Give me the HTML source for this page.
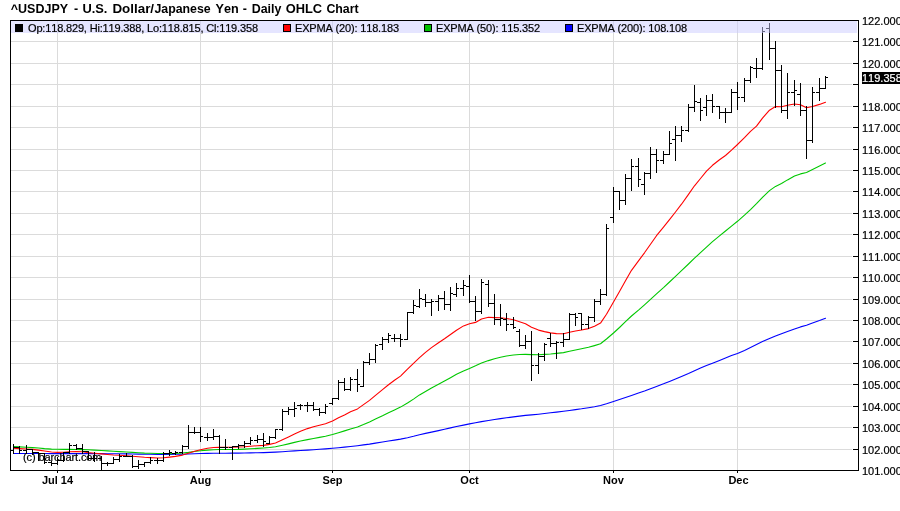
<!DOCTYPE html>
<html lang="en"><head><meta charset="utf-8"><title>^USDJPY - U.S. Dollar/Japanese Yen - Daily OHLC Chart</title>
<style>
html,body{margin:0;padding:0;background:#fff;}
body{width:900px;height:511px;overflow:hidden;}
svg{display:block;}
text{font-family:"Liberation Sans",sans-serif;fill:#000;stroke:#000;stroke-width:0.2px;font-kerning:none;}
.t{font-size:12.5px;font-weight:bold;stroke:none;}
.l{font-size:11px;}
.x{font-size:11px;font-weight:bold;text-anchor:middle;stroke:none;}
.g{fill:#dbdbdb;shape-rendering:crispEdges;}
.k{fill:#000;shape-rendering:crispEdges;}
.e{fill:none;stroke-width:1.1;stroke-linejoin:round;stroke-linecap:round;}
</style></head><body>
<svg width="900" height="511" viewBox="0 0 900 511">
<rect x="0" y="0" width="900" height="511" fill="#fff"/>
<text class="t" y="13"><tspan x="10.8" textLength="57.3" lengthAdjust="spacingAndGlyphs">^USDJPY</tspan> <tspan x="74.0">-</tspan> <tspan x="82.4" textLength="25.0" lengthAdjust="spacingAndGlyphs">U.S.</tspan> <tspan x="112.4" textLength="41.7" lengthAdjust="spacingAndGlyphs">Dollar/</tspan><tspan x="154.4" textLength="56.3" lengthAdjust="spacingAndGlyphs">Japanese</tspan> <tspan x="215.5" textLength="23.2" lengthAdjust="spacingAndGlyphs">Yen</tspan> <tspan x="242.7">-</tspan> <tspan x="251.7" textLength="29.7" lengthAdjust="spacingAndGlyphs">Daily</tspan> <tspan x="285.7" textLength="36.4" lengthAdjust="spacingAndGlyphs">OHLC</tspan> <tspan x="326.4" textLength="32.3" lengthAdjust="spacingAndGlyphs">Chart</tspan></text>
<g class="g">
<rect x="11" y="449" width="841" height="1"/>
<rect x="11" y="427" width="841" height="1"/>
<rect x="11" y="406" width="841" height="1"/>
<rect x="11" y="384" width="841" height="1"/>
<rect x="11" y="363" width="841" height="1"/>
<rect x="11" y="341" width="841" height="1"/>
<rect x="11" y="320" width="841" height="1"/>
<rect x="11" y="299" width="841" height="1"/>
<rect x="11" y="277" width="841" height="1"/>
<rect x="11" y="256" width="841" height="1"/>
<rect x="11" y="234" width="841" height="1"/>
<rect x="11" y="213" width="841" height="1"/>
<rect x="11" y="191" width="841" height="1"/>
<rect x="11" y="170" width="841" height="1"/>
<rect x="11" y="149" width="841" height="1"/>
<rect x="11" y="127" width="841" height="1"/>
<rect x="11" y="106" width="841" height="1"/>
<rect x="11" y="84" width="841" height="1"/>
<rect x="11" y="63" width="841" height="1"/>
<rect x="11" y="41" width="841" height="1"/>
<rect x="57" y="21" width="1" height="449"/>
<rect x="200" y="21" width="1" height="449"/>
<rect x="332" y="21" width="1" height="449"/>
<rect x="469" y="21" width="1" height="449"/>
<rect x="613" y="21" width="1" height="449"/>
<rect x="737" y="21" width="1" height="449"/>
</g>
<polyline class="e" stroke="#0000ff" points="13.5,453.5 19.5,453.5 26.5,453.5 32.5,453.5 38.5,453.5 44.5,453.5 51.5,453.6 57.5,453.6 63.5,453.6 69.5,453.6 76.5,453.6 82.5,453.6 88.5,453.6 94.5,453.6 101.5,453.6 107.5,453.7 113.5,453.7 119.5,453.8 126.5,453.9 132.5,454.0 138.5,454.1 144.5,454.3 150.5,454.3 157.5,454.4 163.5,454.4 169.5,454.4 175.5,454.3 182.5,454.2 188.5,454.0 194.5,453.8 200.5,453.5 207.5,453.4 213.5,453.3 219.5,453.2 225.5,453.2 232.5,453.1 238.5,453.1 244.5,453.0 250.5,452.9 257.5,452.7 263.5,452.6 269.5,452.4 275.5,452.1 282.5,451.7 288.5,451.3 294.5,450.9 300.5,450.5 307.5,450.1 313.5,449.7 319.5,449.3 325.5,448.9 332.5,448.3 338.5,447.7 344.5,447.1 350.5,446.5 357.5,445.7 363.5,444.9 369.5,444.1 375.5,443.1 382.5,442.0 388.5,441.0 394.5,440.1 400.5,439.1 407.5,437.7 413.5,436.3 419.5,434.7 425.5,433.4 431.5,432.1 438.5,430.6 444.5,429.3 450.5,427.9 456.5,426.5 463.5,425.1 469.5,423.9 475.5,422.8 481.5,421.6 488.5,420.5 494.5,419.5 500.5,418.6 506.5,417.8 513.5,416.9 519.5,416.1 525.5,415.4 531.5,414.9 538.5,414.2 544.5,413.5 550.5,412.8 556.5,412.1 563.5,411.3 569.5,410.5 575.5,409.6 581.5,408.8 588.5,407.7 594.5,406.7 600.5,405.5 606.5,403.8 613.5,401.6 619.5,399.6 625.5,397.5 631.5,395.4 638.5,393.1 644.5,391.0 650.5,388.7 656.5,386.4 663.5,383.8 669.5,381.4 675.5,378.9 681.5,376.4 688.5,373.5 694.5,370.8 700.5,368.1 706.5,365.6 712.5,363.2 719.5,360.5 725.5,358.1 731.5,355.6 737.5,353.5 744.5,350.4 750.5,347.5 756.5,344.5 762.5,341.6 769.5,338.5 775.5,336.0 781.5,333.7 787.5,331.5 794.5,329.0 800.5,326.9 806.5,325.3 812.5,323.1 819.5,320.6 825.5,318.2"/>
<polyline class="e" stroke="#00c800" points="13.5,446.6 19.5,446.9 26.5,447.2 32.5,447.6 38.5,448.0 44.5,448.6 51.5,449.1 57.5,449.3 63.5,449.4 69.5,449.4 76.5,449.5 82.5,449.6 88.5,449.8 94.5,450.1 101.5,450.5 107.5,450.9 113.5,451.2 119.5,451.6 126.5,452.0 132.5,452.4 138.5,452.7 144.5,453.1 150.5,453.3 157.5,453.5 163.5,453.5 169.5,453.6 175.5,453.4 182.5,453.0 188.5,452.4 194.5,451.5 200.5,450.7 207.5,450.1 213.5,449.7 219.5,449.5 225.5,449.5 232.5,449.5 238.5,449.4 244.5,449.1 250.5,448.8 257.5,448.4 263.5,448.0 269.5,447.5 275.5,446.8 282.5,445.3 288.5,443.9 294.5,442.4 300.5,441.0 307.5,439.6 313.5,438.5 319.5,437.4 325.5,436.3 332.5,434.5 338.5,432.7 344.5,430.9 350.5,429.0 357.5,427.0 363.5,424.6 369.5,421.9 375.5,419.0 382.5,415.7 388.5,412.7 394.5,409.9 400.5,407.1 407.5,403.0 413.5,399.1 419.5,394.9 425.5,391.4 431.5,388.0 438.5,384.3 444.5,381.0 450.5,377.7 456.5,374.3 463.5,370.9 469.5,368.4 475.5,365.8 481.5,363.0 488.5,360.6 494.5,358.8 500.5,357.2 506.5,356.0 513.5,355.0 519.5,354.5 525.5,354.4 531.5,354.6 538.5,354.8 544.5,354.4 550.5,354.0 556.5,353.4 563.5,352.6 569.5,351.3 575.5,350.0 581.5,348.8 588.5,347.3 594.5,345.6 600.5,343.8 606.5,339.0 613.5,333.0 619.5,327.5 625.5,321.7 631.5,316.0 638.5,310.1 644.5,304.8 650.5,299.3 656.5,293.8 663.5,287.6 669.5,282.0 675.5,276.3 681.5,270.6 688.5,264.0 694.5,258.2 700.5,252.7 706.5,247.1 712.5,241.6 719.5,235.8 725.5,231.0 731.5,226.1 737.5,221.3 744.5,215.2 750.5,209.6 756.5,203.7 762.5,197.3 769.5,190.6 775.5,186.4 781.5,183.5 787.5,179.9 794.5,176.1 800.5,173.9 806.5,172.5 812.5,169.5 819.5,166.0 825.5,163.0"/>
<polyline class="e" stroke="#ff0000" points="13.5,448.3 19.5,448.6 26.5,449.0 32.5,449.4 38.5,450.1 44.5,451.0 51.5,452.0 57.5,452.4 63.5,452.3 69.5,451.8 76.5,451.6 82.5,451.8 88.5,452.6 94.5,453.2 101.5,453.9 107.5,454.5 113.5,455.0 119.5,455.3 126.5,455.7 132.5,456.3 138.5,456.8 144.5,457.3 150.5,457.6 157.5,458.0 163.5,457.7 169.5,457.1 175.5,456.4 182.5,455.1 188.5,453.2 194.5,451.3 200.5,449.7 207.5,448.3 213.5,447.5 219.5,447.4 225.5,447.3 232.5,447.2 238.5,447.0 244.5,446.7 250.5,446.2 257.5,445.7 263.5,445.4 269.5,444.4 275.5,443.0 282.5,439.8 288.5,436.9 294.5,434.0 300.5,431.3 307.5,428.6 313.5,426.8 319.5,425.3 325.5,423.8 332.5,421.0 338.5,417.8 344.5,414.9 350.5,411.8 357.5,408.9 363.5,404.6 369.5,400.4 375.5,395.3 382.5,389.6 388.5,384.7 394.5,380.3 400.5,376.1 407.5,369.2 413.5,363.3 419.5,357.6 425.5,352.4 431.5,347.6 438.5,342.7 444.5,338.7 450.5,334.5 456.5,330.2 463.5,325.9 469.5,323.8 475.5,322.4 481.5,319.0 488.5,317.3 494.5,317.6 500.5,317.8 506.5,318.5 513.5,319.8 519.5,321.8 525.5,323.7 531.5,327.3 538.5,330.1 544.5,331.6 550.5,332.9 556.5,333.6 563.5,333.7 569.5,332.2 575.5,331.0 581.5,330.0 588.5,328.6 594.5,326.2 600.5,323.1 606.5,314.3 613.5,302.1 619.5,291.6 625.5,280.8 631.5,270.3 638.5,260.9 644.5,252.8 650.5,244.3 656.5,235.7 663.5,227.2 669.5,219.6 675.5,212.0 681.5,204.2 688.5,194.4 694.5,185.8 700.5,178.5 706.5,171.1 712.5,165.3 719.5,159.8 725.5,155.5 731.5,150.2 737.5,144.5 744.5,137.7 750.5,131.3 756.5,126.2 762.5,118.1 769.5,110.2 775.5,106.5 781.5,106.7 787.5,105.3 794.5,104.0 800.5,104.8 806.5,107.7 812.5,106.5 819.5,104.4 825.5,102.3"/>
<g class="k">
<rect x="13" y="444" width="1" height="10"/>
<rect x="10" y="450" width="3" height="1"/>
<rect x="14" y="447" width="2" height="1"/>
<rect x="19" y="446" width="1" height="8"/>
<rect x="16" y="447" width="3" height="1"/>
<rect x="20" y="450" width="2" height="1"/>
<rect x="26" y="445" width="1" height="9"/>
<rect x="23" y="450" width="3" height="1"/>
<rect x="27" y="449" width="2" height="1"/>
<rect x="32" y="449" width="1" height="6"/>
<rect x="29" y="449" width="3" height="1"/>
<rect x="33" y="452" width="2" height="1"/>
<rect x="38" y="452" width="1" height="9"/>
<rect x="35" y="452" width="3" height="1"/>
<rect x="39" y="453" width="2" height="1"/>
<rect x="44" y="453" width="1" height="11"/>
<rect x="41" y="453" width="3" height="1"/>
<rect x="45" y="462" width="2" height="1"/>
<rect x="51" y="461" width="1" height="5"/>
<rect x="48" y="462" width="3" height="1"/>
<rect x="52" y="463" width="2" height="1"/>
<rect x="57" y="457" width="1" height="8"/>
<rect x="54" y="463" width="3" height="1"/>
<rect x="58" y="460" width="2" height="1"/>
<rect x="63" y="452" width="1" height="10"/>
<rect x="60" y="460" width="3" height="1"/>
<rect x="64" y="452" width="2" height="1"/>
<rect x="69" y="443" width="1" height="11"/>
<rect x="66" y="452" width="3" height="1"/>
<rect x="70" y="445" width="2" height="1"/>
<rect x="76" y="444" width="1" height="6"/>
<rect x="73" y="445" width="3" height="1"/>
<rect x="77" y="448" width="2" height="1"/>
<rect x="82" y="444" width="1" height="10"/>
<rect x="79" y="448" width="3" height="1"/>
<rect x="83" y="451" width="2" height="1"/>
<rect x="88" y="451" width="1" height="9"/>
<rect x="85" y="451" width="3" height="1"/>
<rect x="89" y="458" width="2" height="1"/>
<rect x="94" y="452" width="1" height="10"/>
<rect x="91" y="458" width="3" height="1"/>
<rect x="95" y="458" width="2" height="1"/>
<rect x="101" y="456" width="1" height="14"/>
<rect x="98" y="458" width="3" height="1"/>
<rect x="102" y="463" width="2" height="1"/>
<rect x="107" y="462" width="1" height="4"/>
<rect x="104" y="463" width="3" height="1"/>
<rect x="108" y="463" width="2" height="1"/>
<rect x="113" y="457" width="1" height="7"/>
<rect x="110" y="463" width="3" height="1"/>
<rect x="114" y="459" width="2" height="1"/>
<rect x="119" y="454" width="1" height="8"/>
<rect x="116" y="459" width="3" height="1"/>
<rect x="120" y="456" width="2" height="1"/>
<rect x="126" y="453" width="1" height="4"/>
<rect x="123" y="456" width="3" height="1"/>
<rect x="127" y="456" width="2" height="1"/>
<rect x="132" y="455" width="1" height="13"/>
<rect x="129" y="456" width="3" height="1"/>
<rect x="133" y="466" width="2" height="1"/>
<rect x="138" y="460" width="1" height="9"/>
<rect x="135" y="466" width="3" height="1"/>
<rect x="139" y="464" width="2" height="1"/>
<rect x="144" y="462" width="1" height="5"/>
<rect x="141" y="464" width="3" height="1"/>
<rect x="145" y="462" width="2" height="1"/>
<rect x="150" y="457" width="1" height="7"/>
<rect x="147" y="462" width="3" height="1"/>
<rect x="151" y="460" width="2" height="1"/>
<rect x="157" y="458" width="1" height="6"/>
<rect x="154" y="460" width="3" height="1"/>
<rect x="158" y="460" width="2" height="1"/>
<rect x="163" y="452" width="1" height="10"/>
<rect x="160" y="460" width="3" height="1"/>
<rect x="164" y="453" width="2" height="1"/>
<rect x="169" y="450" width="1" height="6"/>
<rect x="166" y="453" width="3" height="1"/>
<rect x="170" y="452" width="2" height="1"/>
<rect x="175" y="451" width="1" height="4"/>
<rect x="172" y="453" width="3" height="1"/>
<rect x="176" y="452" width="2" height="1"/>
<rect x="182" y="445" width="1" height="9"/>
<rect x="179" y="452" width="3" height="1"/>
<rect x="183" y="446" width="2" height="1"/>
<rect x="188" y="425" width="1" height="24"/>
<rect x="185" y="446" width="3" height="1"/>
<rect x="189" y="432" width="2" height="1"/>
<rect x="194" y="427" width="1" height="7"/>
<rect x="191" y="432" width="3" height="1"/>
<rect x="195" y="432" width="2" height="1"/>
<rect x="200" y="427" width="1" height="15"/>
<rect x="197" y="432" width="3" height="1"/>
<rect x="201" y="436" width="2" height="1"/>
<rect x="207" y="433" width="1" height="8"/>
<rect x="204" y="437" width="3" height="1"/>
<rect x="208" y="437" width="2" height="1"/>
<rect x="213" y="429" width="1" height="11"/>
<rect x="210" y="437" width="3" height="1"/>
<rect x="214" y="436" width="2" height="1"/>
<rect x="219" y="435" width="1" height="19"/>
<rect x="216" y="436" width="3" height="1"/>
<rect x="220" y="447" width="2" height="1"/>
<rect x="225" y="439" width="1" height="11"/>
<rect x="222" y="447" width="3" height="1"/>
<rect x="226" y="447" width="2" height="1"/>
<rect x="232" y="446" width="1" height="14"/>
<rect x="229" y="447" width="3" height="1"/>
<rect x="233" y="446" width="2" height="1"/>
<rect x="238" y="444" width="1" height="5"/>
<rect x="235" y="446" width="3" height="1"/>
<rect x="239" y="445" width="2" height="1"/>
<rect x="244" y="441" width="1" height="7"/>
<rect x="241" y="445" width="3" height="1"/>
<rect x="245" y="443" width="2" height="1"/>
<rect x="250" y="437" width="1" height="8"/>
<rect x="247" y="443" width="3" height="1"/>
<rect x="251" y="440" width="2" height="1"/>
<rect x="257" y="435" width="1" height="8"/>
<rect x="254" y="440" width="3" height="1"/>
<rect x="258" y="439" width="2" height="1"/>
<rect x="263" y="433" width="1" height="14"/>
<rect x="260" y="439" width="3" height="1"/>
<rect x="264" y="441" width="2" height="1"/>
<rect x="269" y="436" width="1" height="8"/>
<rect x="266" y="443" width="3" height="1"/>
<rect x="270" y="437" width="2" height="1"/>
<rect x="275" y="429" width="1" height="10"/>
<rect x="272" y="437" width="3" height="1"/>
<rect x="276" y="429" width="2" height="1"/>
<rect x="282" y="409" width="1" height="22"/>
<rect x="279" y="429" width="3" height="1"/>
<rect x="283" y="411" width="2" height="1"/>
<rect x="288" y="407" width="1" height="8"/>
<rect x="285" y="411" width="3" height="1"/>
<rect x="289" y="409" width="2" height="1"/>
<rect x="294" y="402" width="1" height="15"/>
<rect x="291" y="409" width="3" height="1"/>
<rect x="295" y="408" width="2" height="1"/>
<rect x="300" y="404" width="1" height="6"/>
<rect x="297" y="405" width="3" height="1"/>
<rect x="301" y="405" width="2" height="1"/>
<rect x="307" y="402" width="1" height="10"/>
<rect x="304" y="405" width="3" height="1"/>
<rect x="308" y="405" width="2" height="1"/>
<rect x="313" y="402" width="1" height="9"/>
<rect x="310" y="405" width="3" height="1"/>
<rect x="314" y="409" width="2" height="1"/>
<rect x="319" y="408" width="1" height="8"/>
<rect x="316" y="409" width="3" height="1"/>
<rect x="320" y="412" width="2" height="1"/>
<rect x="325" y="404" width="1" height="10"/>
<rect x="322" y="412" width="3" height="1"/>
<rect x="326" y="406" width="2" height="1"/>
<rect x="332" y="398" width="1" height="7"/>
<rect x="329" y="403" width="3" height="1"/>
<rect x="333" y="398" width="2" height="1"/>
<rect x="338" y="380" width="1" height="20"/>
<rect x="335" y="398" width="3" height="1"/>
<rect x="339" y="382" width="2" height="1"/>
<rect x="344" y="378" width="1" height="13"/>
<rect x="341" y="382" width="3" height="1"/>
<rect x="345" y="389" width="2" height="1"/>
<rect x="350" y="377" width="1" height="14"/>
<rect x="347" y="389" width="3" height="1"/>
<rect x="351" y="379" width="2" height="1"/>
<rect x="357" y="369" width="1" height="23"/>
<rect x="354" y="379" width="3" height="1"/>
<rect x="358" y="384" width="2" height="1"/>
<rect x="363" y="361" width="1" height="26"/>
<rect x="360" y="386" width="3" height="1"/>
<rect x="364" y="362" width="2" height="1"/>
<rect x="369" y="353" width="1" height="12"/>
<rect x="366" y="362" width="3" height="1"/>
<rect x="370" y="359" width="2" height="1"/>
<rect x="375" y="344" width="1" height="19"/>
<rect x="372" y="359" width="3" height="1"/>
<rect x="376" y="345" width="2" height="1"/>
<rect x="382" y="337" width="1" height="13"/>
<rect x="379" y="344" width="3" height="1"/>
<rect x="383" y="339" width="2" height="1"/>
<rect x="388" y="333" width="1" height="10"/>
<rect x="385" y="339" width="3" height="1"/>
<rect x="389" y="335" width="2" height="1"/>
<rect x="394" y="334" width="1" height="8"/>
<rect x="391" y="338" width="3" height="1"/>
<rect x="395" y="338" width="2" height="1"/>
<rect x="400" y="334" width="1" height="13"/>
<rect x="397" y="338" width="3" height="1"/>
<rect x="401" y="339" width="2" height="1"/>
<rect x="407" y="312" width="1" height="28"/>
<rect x="404" y="339" width="3" height="1"/>
<rect x="408" y="312" width="2" height="1"/>
<rect x="413" y="300" width="1" height="14"/>
<rect x="410" y="312" width="3" height="1"/>
<rect x="414" y="305" width="2" height="1"/>
<rect x="419" y="289" width="1" height="19"/>
<rect x="416" y="306" width="3" height="1"/>
<rect x="420" y="298" width="2" height="1"/>
<rect x="425" y="294" width="1" height="13"/>
<rect x="422" y="299" width="3" height="1"/>
<rect x="426" y="302" width="2" height="1"/>
<rect x="431" y="299" width="1" height="17"/>
<rect x="428" y="302" width="3" height="1"/>
<rect x="432" y="301" width="2" height="1"/>
<rect x="438" y="295" width="1" height="16"/>
<rect x="435" y="301" width="3" height="1"/>
<rect x="439" y="298" width="2" height="1"/>
<rect x="444" y="291" width="1" height="19"/>
<rect x="441" y="298" width="3" height="1"/>
<rect x="445" y="304" width="2" height="1"/>
<rect x="450" y="287" width="1" height="24"/>
<rect x="447" y="304" width="3" height="1"/>
<rect x="451" y="293" width="2" height="1"/>
<rect x="456" y="283" width="1" height="14"/>
<rect x="453" y="294" width="3" height="1"/>
<rect x="457" y="288" width="2" height="1"/>
<rect x="463" y="280" width="1" height="16"/>
<rect x="460" y="288" width="3" height="1"/>
<rect x="464" y="285" width="2" height="1"/>
<rect x="469" y="275" width="1" height="28"/>
<rect x="466" y="286" width="3" height="1"/>
<rect x="470" y="301" width="2" height="1"/>
<rect x="475" y="296" width="1" height="25"/>
<rect x="472" y="301" width="3" height="1"/>
<rect x="476" y="311" width="2" height="1"/>
<rect x="481" y="279" width="1" height="35"/>
<rect x="478" y="311" width="3" height="1"/>
<rect x="482" y="282" width="2" height="1"/>
<rect x="488" y="280" width="1" height="27"/>
<rect x="485" y="284" width="3" height="1"/>
<rect x="489" y="303" width="2" height="1"/>
<rect x="494" y="294" width="1" height="31"/>
<rect x="491" y="303" width="3" height="1"/>
<rect x="495" y="319" width="2" height="1"/>
<rect x="500" y="304" width="1" height="22"/>
<rect x="497" y="319" width="3" height="1"/>
<rect x="501" y="318" width="2" height="1"/>
<rect x="506" y="313" width="1" height="18"/>
<rect x="503" y="319" width="3" height="1"/>
<rect x="507" y="324" width="2" height="1"/>
<rect x="513" y="317" width="1" height="12"/>
<rect x="510" y="324" width="3" height="1"/>
<rect x="514" y="327" width="2" height="1"/>
<rect x="519" y="329" width="1" height="18"/>
<rect x="516" y="331" width="3" height="1"/>
<rect x="520" y="345" width="2" height="1"/>
<rect x="525" y="335" width="1" height="14"/>
<rect x="522" y="345" width="3" height="1"/>
<rect x="526" y="341" width="2" height="1"/>
<rect x="531" y="331" width="1" height="50"/>
<rect x="528" y="341" width="3" height="1"/>
<rect x="532" y="365" width="2" height="1"/>
<rect x="538" y="353" width="1" height="21"/>
<rect x="535" y="365" width="3" height="1"/>
<rect x="539" y="356" width="2" height="1"/>
<rect x="544" y="343" width="1" height="18"/>
<rect x="541" y="356" width="3" height="1"/>
<rect x="545" y="344" width="2" height="1"/>
<rect x="550" y="333" width="1" height="14"/>
<rect x="547" y="338" width="3" height="1"/>
<rect x="551" y="343" width="2" height="1"/>
<rect x="556" y="341" width="1" height="18"/>
<rect x="553" y="343" width="3" height="1"/>
<rect x="557" y="342" width="2" height="1"/>
<rect x="563" y="333" width="1" height="14"/>
<rect x="560" y="342" width="3" height="1"/>
<rect x="564" y="339" width="2" height="1"/>
<rect x="569" y="313" width="1" height="27"/>
<rect x="566" y="339" width="3" height="1"/>
<rect x="570" y="314" width="2" height="1"/>
<rect x="575" y="313" width="1" height="13"/>
<rect x="572" y="314" width="3" height="1"/>
<rect x="576" y="317" width="2" height="1"/>
<rect x="581" y="313" width="1" height="17"/>
<rect x="578" y="313" width="3" height="1"/>
<rect x="582" y="324" width="2" height="1"/>
<rect x="588" y="316" width="1" height="13"/>
<rect x="585" y="324" width="3" height="1"/>
<rect x="589" y="317" width="2" height="1"/>
<rect x="594" y="299" width="1" height="23"/>
<rect x="591" y="317" width="3" height="1"/>
<rect x="595" y="301" width="2" height="1"/>
<rect x="600" y="289" width="1" height="16"/>
<rect x="597" y="301" width="3" height="1"/>
<rect x="601" y="294" width="2" height="1"/>
<rect x="606" y="224" width="1" height="72"/>
<rect x="603" y="294" width="3" height="1"/>
<rect x="607" y="228" width="2" height="1"/>
<rect x="613" y="187" width="1" height="36"/>
<rect x="610" y="217" width="3" height="1"/>
<rect x="614" y="191" width="2" height="1"/>
<rect x="619" y="191" width="1" height="19"/>
<rect x="616" y="191" width="3" height="1"/>
<rect x="620" y="200" width="2" height="1"/>
<rect x="625" y="174" width="1" height="31"/>
<rect x="622" y="200" width="3" height="1"/>
<rect x="626" y="178" width="2" height="1"/>
<rect x="631" y="159" width="1" height="32"/>
<rect x="628" y="178" width="3" height="1"/>
<rect x="632" y="166" width="2" height="1"/>
<rect x="638" y="158" width="1" height="29"/>
<rect x="635" y="166" width="3" height="1"/>
<rect x="639" y="179" width="2" height="1"/>
<rect x="644" y="172" width="1" height="23"/>
<rect x="641" y="184" width="3" height="1"/>
<rect x="645" y="173" width="2" height="1"/>
<rect x="650" y="147" width="1" height="32"/>
<rect x="647" y="173" width="3" height="1"/>
<rect x="651" y="154" width="2" height="1"/>
<rect x="656" y="149" width="1" height="24"/>
<rect x="653" y="154" width="3" height="1"/>
<rect x="657" y="160" width="2" height="1"/>
<rect x="663" y="151" width="1" height="13"/>
<rect x="660" y="160" width="3" height="1"/>
<rect x="664" y="154" width="2" height="1"/>
<rect x="669" y="131" width="1" height="24"/>
<rect x="666" y="154" width="3" height="1"/>
<rect x="670" y="143" width="2" height="1"/>
<rect x="675" y="126" width="1" height="35"/>
<rect x="672" y="139" width="3" height="1"/>
<rect x="676" y="135" width="2" height="1"/>
<rect x="681" y="126" width="1" height="16"/>
<rect x="678" y="135" width="3" height="1"/>
<rect x="682" y="130" width="2" height="1"/>
<rect x="688" y="104" width="1" height="28"/>
<rect x="685" y="130" width="3" height="1"/>
<rect x="689" y="107" width="2" height="1"/>
<rect x="694" y="85" width="1" height="27"/>
<rect x="691" y="107" width="3" height="1"/>
<rect x="695" y="101" width="2" height="1"/>
<rect x="700" y="98" width="1" height="23"/>
<rect x="697" y="102" width="3" height="1"/>
<rect x="701" y="110" width="2" height="1"/>
<rect x="706" y="95" width="1" height="21"/>
<rect x="703" y="107" width="3" height="1"/>
<rect x="707" y="100" width="2" height="1"/>
<rect x="712" y="94" width="1" height="19"/>
<rect x="709" y="100" width="3" height="1"/>
<rect x="713" y="106" width="2" height="1"/>
<rect x="719" y="106" width="1" height="13"/>
<rect x="716" y="106" width="3" height="1"/>
<rect x="720" y="112" width="2" height="1"/>
<rect x="725" y="108" width="1" height="15"/>
<rect x="722" y="112" width="3" height="1"/>
<rect x="726" y="112" width="2" height="1"/>
<rect x="731" y="89" width="1" height="24"/>
<rect x="728" y="112" width="3" height="1"/>
<rect x="732" y="92" width="2" height="1"/>
<rect x="737" y="82" width="1" height="28"/>
<rect x="734" y="92" width="3" height="1"/>
<rect x="738" y="97" width="2" height="1"/>
<rect x="744" y="78" width="1" height="24"/>
<rect x="741" y="97" width="3" height="1"/>
<rect x="745" y="80" width="2" height="1"/>
<rect x="750" y="66" width="1" height="17"/>
<rect x="747" y="80" width="3" height="1"/>
<rect x="751" y="67" width="2" height="1"/>
<rect x="756" y="58" width="1" height="20"/>
<rect x="753" y="68" width="3" height="1"/>
<rect x="757" y="68" width="2" height="1"/>
<rect x="762" y="27" width="1" height="43"/>
<rect x="759" y="68" width="3" height="1"/>
<rect x="763" y="31" width="2" height="1"/>
<rect x="769" y="23" width="1" height="37"/>
<rect x="766" y="28" width="3" height="1"/>
<rect x="770" y="48" width="2" height="1"/>
<rect x="775" y="41" width="1" height="67"/>
<rect x="772" y="48" width="3" height="1"/>
<rect x="776" y="70" width="2" height="1"/>
<rect x="781" y="65" width="1" height="48"/>
<rect x="778" y="70" width="3" height="1"/>
<rect x="782" y="110" width="2" height="1"/>
<rect x="787" y="73" width="1" height="46"/>
<rect x="784" y="110" width="3" height="1"/>
<rect x="788" y="92" width="2" height="1"/>
<rect x="794" y="80" width="1" height="26"/>
<rect x="791" y="92" width="3" height="1"/>
<rect x="795" y="90" width="2" height="1"/>
<rect x="800" y="83" width="1" height="33"/>
<rect x="797" y="94" width="3" height="1"/>
<rect x="801" y="110" width="2" height="1"/>
<rect x="806" y="106" width="1" height="53"/>
<rect x="803" y="110" width="3" height="1"/>
<rect x="807" y="140" width="2" height="1"/>
<rect x="812" y="87" width="1" height="56"/>
<rect x="809" y="140" width="3" height="1"/>
<rect x="813" y="92" width="2" height="1"/>
<rect x="819" y="78" width="1" height="23"/>
<rect x="816" y="92" width="3" height="1"/>
<rect x="820" y="88" width="2" height="1"/>
<rect x="825" y="76" width="1" height="13"/>
<rect x="822" y="88" width="3" height="1"/>
<rect x="826" y="77" width="2" height="1"/>
</g>
<text class="l" x="23" y="461" textLength="78.5" lengthAdjust="spacing">(c) barchart.com</text>
<rect x="11" y="21" width="846" height="12" fill="#ccccff" fill-opacity="0.5" shape-rendering="crispEdges"/>
<rect class="k" x="15" y="24" width="8" height="8"/>
<text class="l" x="28" y="32" textLength="230" lengthAdjust="spacing">Op:118.829, Hi:119.388, Lo:118.815, Cl:119.358</text>
<rect class="k" x="283" y="24" width="8" height="8"/>
<rect x="284" y="25" width="6" height="6" fill="#ff0000" shape-rendering="crispEdges"/>
<text class="l" x="295" y="32" textLength="104" lengthAdjust="spacing">EXPMA (20): 118.183</text>
<rect class="k" x="424" y="24" width="8" height="8"/>
<rect x="425" y="25" width="6" height="6" fill="#00c000" shape-rendering="crispEdges"/>
<text class="l" x="436" y="32" textLength="104" lengthAdjust="spacing">EXPMA (50): 115.352</text>
<rect class="k" x="565" y="24" width="8" height="8"/>
<rect x="566" y="25" width="6" height="6" fill="#0000ff" shape-rendering="crispEdges"/>
<text class="l" x="577" y="32" textLength="110" lengthAdjust="spacing">EXPMA (200): 108.108</text>
<rect x="10.5" y="20.5" width="848" height="450" fill="none" stroke="#000" stroke-width="1" shape-rendering="crispEdges"/>
<g class="k">
<rect x="853" y="449" width="5" height="1"/>
<rect x="853" y="427" width="5" height="1"/>
<rect x="853" y="406" width="5" height="1"/>
<rect x="853" y="384" width="5" height="1"/>
<rect x="853" y="363" width="5" height="1"/>
<rect x="853" y="341" width="5" height="1"/>
<rect x="853" y="320" width="5" height="1"/>
<rect x="853" y="299" width="5" height="1"/>
<rect x="853" y="277" width="5" height="1"/>
<rect x="853" y="256" width="5" height="1"/>
<rect x="853" y="234" width="5" height="1"/>
<rect x="853" y="213" width="5" height="1"/>
<rect x="853" y="191" width="5" height="1"/>
<rect x="853" y="170" width="5" height="1"/>
<rect x="853" y="149" width="5" height="1"/>
<rect x="853" y="127" width="5" height="1"/>
<rect x="853" y="106" width="5" height="1"/>
<rect x="853" y="84" width="5" height="1"/>
<rect x="853" y="63" width="5" height="1"/>
<rect x="853" y="41" width="5" height="1"/>
<rect x="57" y="471" width="1" height="2"/>
<rect x="200" y="471" width="1" height="2"/>
<rect x="332" y="471" width="1" height="2"/>
<rect x="469" y="471" width="1" height="2"/>
<rect x="613" y="471" width="1" height="2"/>
<rect x="737" y="471" width="1" height="2"/>
</g>
<text class="l" x="862" y="475">101.000</text>
<text class="l" x="862" y="454">102.000</text>
<text class="l" x="862" y="432">103.000</text>
<text class="l" x="862" y="411">104.000</text>
<text class="l" x="862" y="389">105.000</text>
<text class="l" x="862" y="368">106.000</text>
<text class="l" x="862" y="346">107.000</text>
<text class="l" x="862" y="325">108.000</text>
<text class="l" x="862" y="304">109.000</text>
<text class="l" x="862" y="282">110.000</text>
<text class="l" x="862" y="261">111.000</text>
<text class="l" x="862" y="239">112.000</text>
<text class="l" x="862" y="218">113.000</text>
<text class="l" x="862" y="196">114.000</text>
<text class="l" x="862" y="175">115.000</text>
<text class="l" x="862" y="154">116.000</text>
<text class="l" x="862" y="132">117.000</text>
<text class="l" x="862" y="111">118.000</text>
<text class="l" x="862" y="68">120.000</text>
<text class="l" x="862" y="46">121.000</text>
<text class="l" x="862" y="25">122.000</text>
<rect class="k" x="862" y="72" width="38" height="12"/>
<text class="l" x="862" y="82" style="fill:#fff;stroke:#fff">119.358</text>
<text class="x" x="57.5" y="484">Jul 14</text>
<text class="x" x="200.5" y="484">Aug</text>
<text class="x" x="332.5" y="484">Sep</text>
<text class="x" x="469.5" y="484">Oct</text>
<text class="x" x="613.5" y="484">Nov</text>
<text class="x" x="738.5" y="484">Dec</text>
</svg>
</body></html>
